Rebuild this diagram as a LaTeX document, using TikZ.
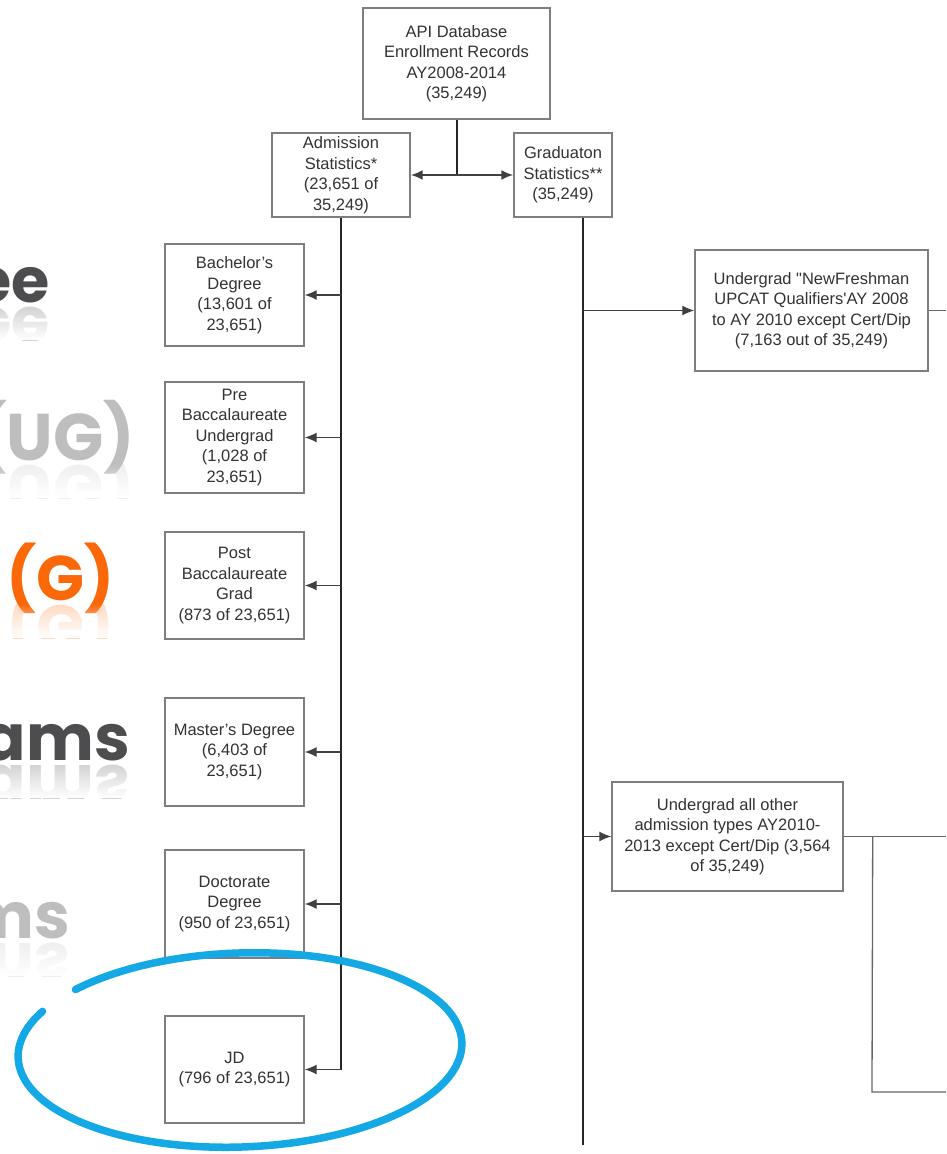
\documentclass[tikz,border=0pt]{standalone}
\usepackage{fontspec}
\setmainfont{Liberation Sans}
\newfontfamily\slidefont{Poppins}
\definecolor{slidedark}{RGB}{77, 77, 79}
\definecolor{slidelight}{RGB}{190, 190, 190}
\definecolor{slideorange}{RGB}{250, 104, 10}
\definecolor{markerblue}{RGB}{20, 168, 228}
\definecolor{boxline}{RGB}{125, 125, 130}
\usetikzlibrary{arrows.meta, positioning, calc, fadings}

\begin{document}
\begin{tikzpicture}[
  x=1pt, y=-1pt,
  recbox/.style={draw=boxline, line width=1.4pt, fill=white, align=center, inner sep=2pt, text=black!80, font=\fontsize{16.5}{20.5}\selectfont},
  trunk/.style={line width=2.4pt, draw=black!85},
  branch/.style={line width=1.3pt, draw=black!75, -{Latex[length=12pt, width=10pt]}},
  feed/.style={line width=1.3pt, draw=black!60},
  slidetext/.style={font=\slidefont\bfseries\fontsize{#1}{80}\selectfont, anchor=base east, inner sep=0pt}
]
  \useasboundingbox (0,0) rectangle (946,1154);

  \foreach \word/\tone/\fs/\xr/\yb in {ee/slidedark/62/50/302, {(UG)}/slidelight/66/135/460, {(G)}/slideorange/63/115/600, ams/slidedark/64/130/760, ms/slidelight/64/70/938} {
    \node[slidetext=\fs, text=\tone] at (\xr,\yb) {\word};
    \begin{scope}
      \clip (0,\yb+4) rectangle (160,\yb+38);
      \node[slidetext=\fs, text=\tone, yscale=-1, opacity=.25] at (\xr,\yb+5) {\word};
      \fill[white, path fading=north] (0,\yb+4) rectangle (160,\yb+38);
    \end{scope}
  }

  \node[recbox, minimum width=187pt, minimum height=111pt] (api) at (456.5,63.5) {API Database\\Enrollment Records\\AY2008-2014\\(35,249)};
  \node[recbox, minimum width=138pt, minimum height=84pt] (adm) at (341,175) {Admission\\Statistics*\\(23,651 of\\35,249)};
  \node[recbox, minimum width=98pt, minimum height=84pt] (grad) at (563,175) {Graduaton\\Statistics**\\(35,249)};

  \node[recbox, minimum width=139pt, minimum height=102pt] (bach) at (234.5,295) {Bachelor's\\Degree\\(13,601 of\\23,651)};
  \node[recbox, minimum width=139pt, minimum height=111pt] (prebacc) at (234.5,437.5) {Pre\\Baccalaureate\\Undergrad\\(1,028 of\\23,651)};
  \node[recbox, minimum width=139pt, minimum height=107pt] (postbacc) at (234.5,585.5) {Post\\Baccalaureate\\Grad\\(873 of 23,651)};
  \node[recbox, minimum width=139pt, minimum height=108pt] (master) at (234.5,752) {Master's Degree\\(6,403 of\\23,651)};
  \node[recbox, minimum width=139pt, minimum height=108pt] (doct) at (234.5,904) {Doctorate\\Degree\\(950 of 23,651)};
  \node[recbox, minimum width=139pt, minimum height=107pt] (jd) at (234.5,1069.5) {JD\\(796 of 23,651)};

  \node[recbox, minimum width=233pt, minimum height=121pt] (fresh) at (811.5,310.5) {Undergrad \textquotedbl NewFreshman\\UPCAT Qualifiers\textquotesingle AY 2008\\to AY 2010 except Cert/Dip\\(7,163 out of 35,249)};
  \node[recbox, minimum width=231pt, minimum height=109pt] (other) at (727.5,836.5) {Undergrad all other\\admission types AY2010-\\2013 except Cert/Dip (3,564\\of 35,249)};

  \coordinate (split) at (api.south |- adm.east);
  \draw[trunk, line width=2pt] (api.south) -- (split);
  \draw[branch, line width=2pt] (split) -- (adm.east);
  \draw[branch, line width=2pt] (split) -- (grad.west);

  \draw[trunk] (adm.south) -- (adm.south |- jd.east);
  \foreach \deg in {bach, prebacc, postbacc, master, doct, jd}
    \draw[branch] (adm.south |- \deg.east) -- (\deg.east);

  \coordinate (gtop) at ([xshift=20pt]grad.south);
  \coordinate (gend) at (583,1145);
  \draw[trunk] (gtop) -- (gend);
  \draw[branch] (gtop |- fresh.west) -- (fresh.west);
  \draw[branch] (gtop |- other.west) -- (other.west);

  \coordinate (rim) at (946,0);
  \coordinate (otherfork) at ([xshift=29pt]other.east);
  \coordinate (otherlow) at (872,1092);
  \draw[feed] (fresh.east) -- (fresh.east -| rim);
  \draw[feed] (other.east) -- (other.east -| rim);
  \draw[feed] (otherfork) -- (otherlow) -- (otherlow -| rim);

  \draw[markerblue, line width=7.5pt, line cap=round, rotate around={2:(240,1050)}] (240,1050) ++(223:222 and 97) arc[start angle=223, end angle=568, x radius=222, y radius=97];
\end{tikzpicture}
\end{document}
